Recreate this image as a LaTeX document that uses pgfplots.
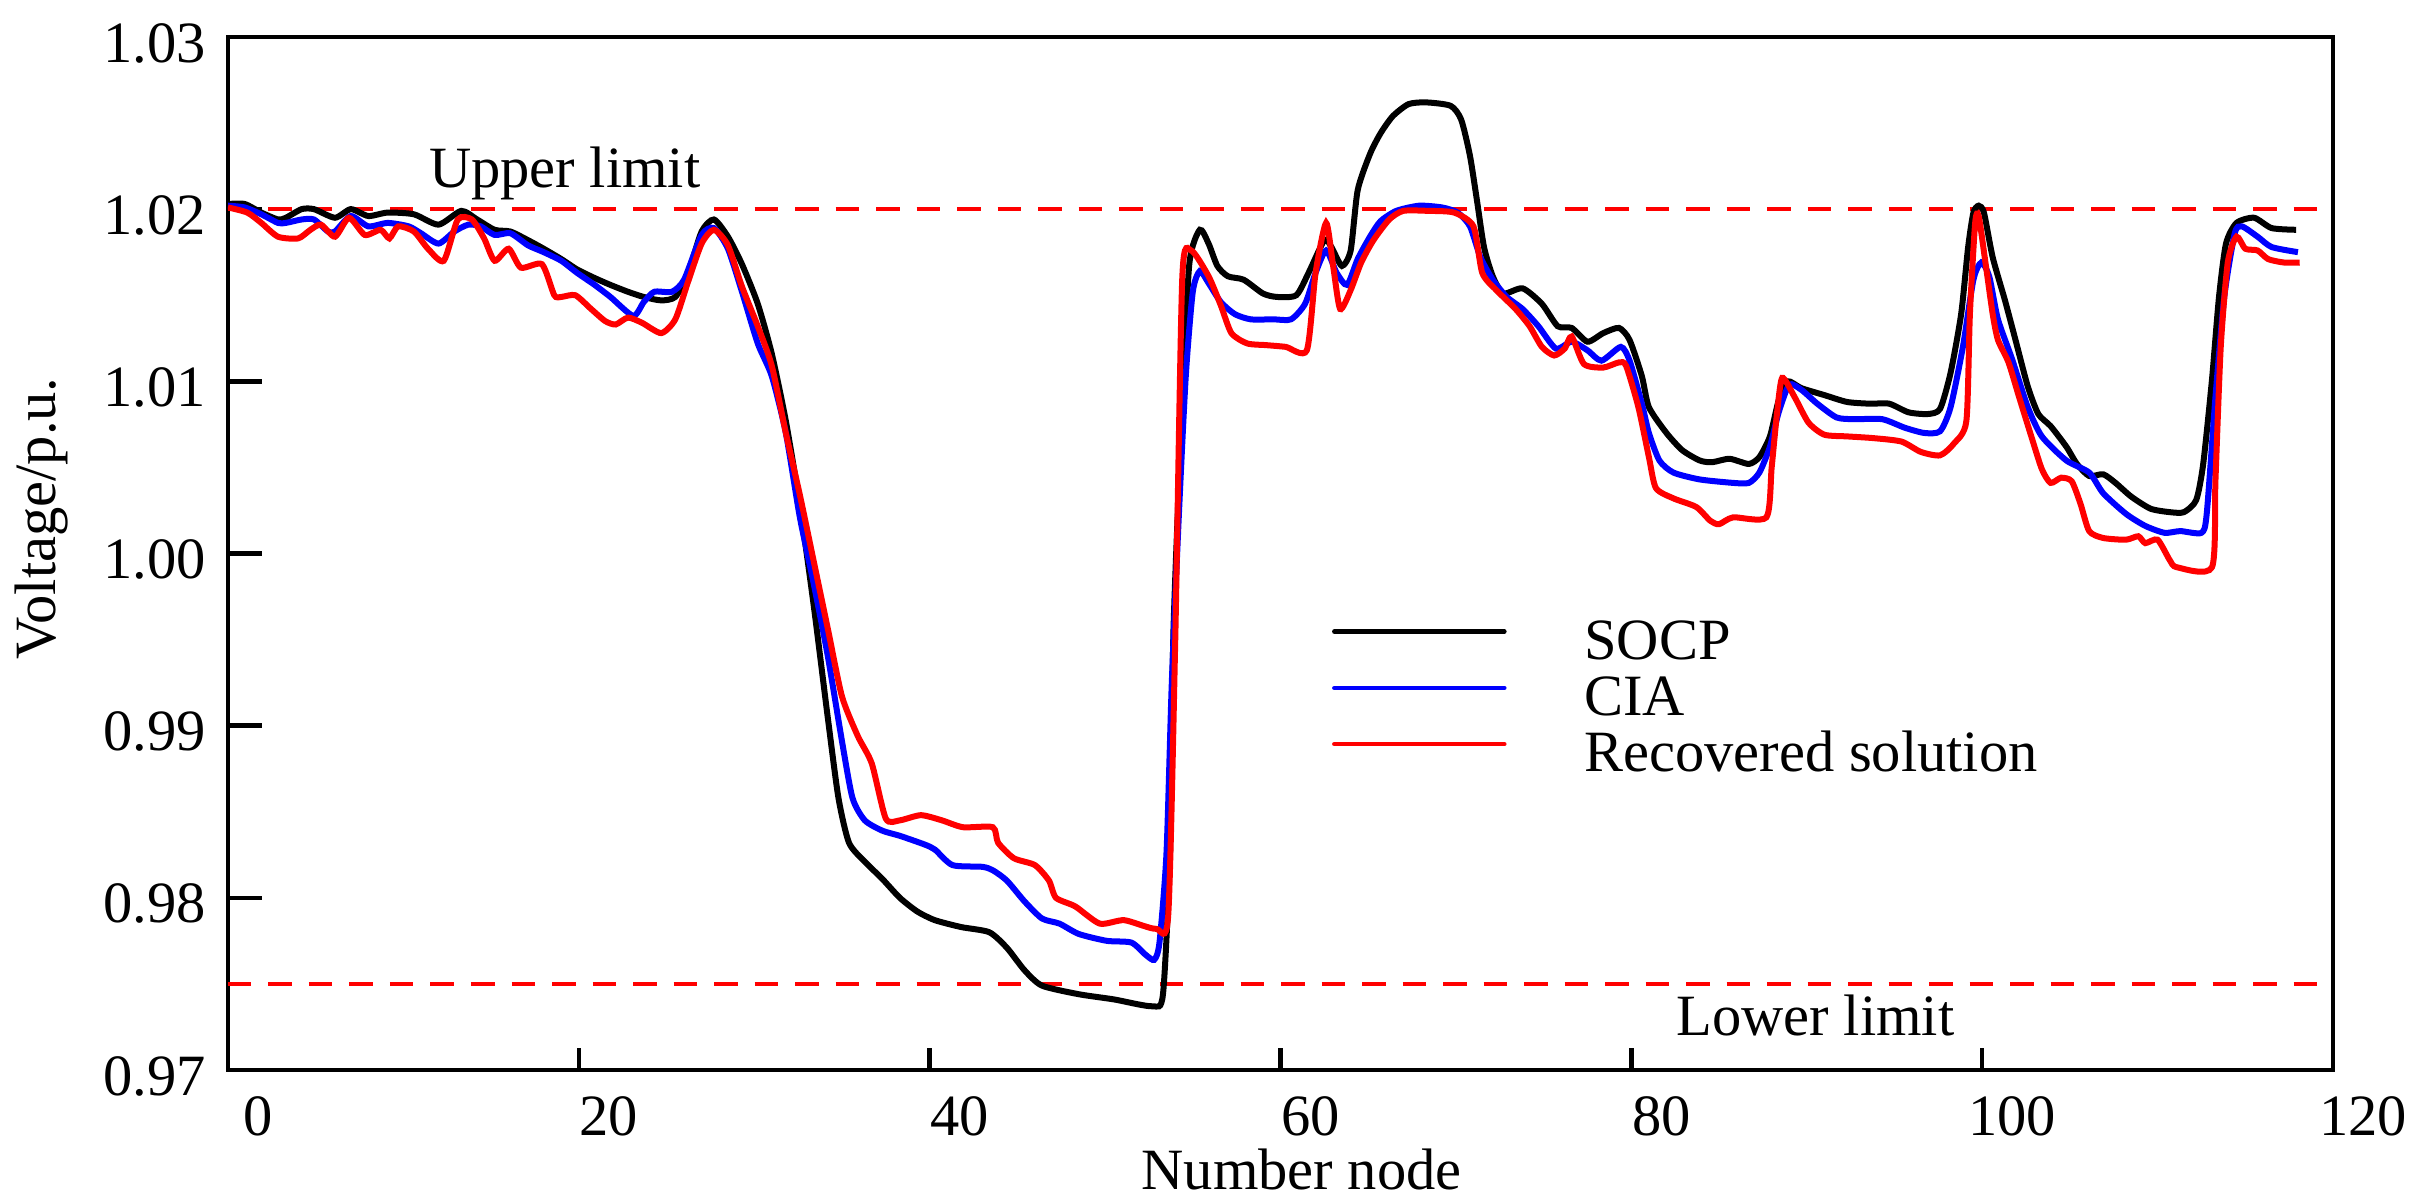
\documentclass[border=0pt]{standalone}
\usepackage{fontspec}
\setmainfont{Liberation Serif}
\usepackage{pgfplots}
\pgfplotsset{compat=1.18}
\newcommand{\fs}{\fontsize{11.7}{14}\selectfont}
\begin{document}
\begin{tikzpicture}
\useasboundingbox (-45.6pt,-25.6pt) rectangle (438.8pt,214pt);
\begin{axis}[
  scale only axis, width=421pt, height=206.6pt,
  xmin=0, xmax=120, ymin=0.97, ymax=1.03,
  xtick={0,20,40,60,80,100,120},
  ytick={0.97,0.98,0.99,1.00,1.01,1.02,1.03},
  tick align=inside, tick pos=left,
  major tick length=6.8pt,
  xtick style={/pgfplots/major tick length=4.4pt},
  axis line style={line width=0.9pt},
  every tick/.style={black, line width=0.9pt},
  /pgf/number format/assume math mode=true,
  yticklabel style={/pgf/number format/fixed, /pgf/number format/fixed zerofill, /pgf/number format/precision=2, xshift=-0.9pt, yshift=-1.2pt},
  xticklabel style={inner sep=0pt, xshift=6pt, yshift=-5.2pt},
  tick label style={font=\fs},
  xlabel={Number node}, ylabel={Voltage/p.u.},
  label style={font=\fs},
  xlabel style={at={(axis description cs:0.510,-0.0755)}, anchor=north, inner sep=0pt},
  ylabel style={at={(axis description cs:-0.0884,0.534)}, anchor=center},
  legend style={at={(axis description cs:0.5245,0.438)}, anchor=north west,
    draw=none, fill=none, inner sep=0pt, outer sep=0pt, font=\fs, row sep=0pt,
    nodes={inner sep=0pt, text height=8.3pt, text depth=2.95pt}},
  legend cell align=left,
  legend image code/.code={\draw[#1, line width=0.9pt, line cap=round] (0pt,2.8pt) -- (34pt,2.8pt);
    \path[draw=none] (0pt,2.8pt) -- (50pt,2.8pt);},
]
\addplot[red, line width=0.8pt, dash pattern=on 4.7pt off 3.4pt, forget plot] coordinates {(0,1.02) (120,1.02)};
\addplot[red, line width=0.8pt, dash pattern=on 4.7pt off 3.4pt, forget plot] coordinates {(0,0.975) (120,0.975)};

\addplot[black, line width=1.2pt, smooth, tension=0.4] coordinates {
(0,1.0203) (0.95,1.0203) (1.9,1.0198) (2.85,1.0194) (3.3,1.0195) (4.2,1.0200) (4.9,1.0200) (6.1,1.0195) (7.0,1.0200) (8.0,1.0196) (9.1,1.0198) (10.6,1.0197) (12.0,1.0191) (13.3,1.0199) (14.2,1.0194) (15.2,1.0188) (16.1,1.0187) (17.1,1.0182) (18.0,1.0177) (19.0,1.0171) (19.9,1.0165) (20.9,1.0160) (21.8,1.0156) (22.8,1.0152) (23.7,1.0149) (24.7,1.0147) (25.5,1.0149) (26.2,1.0162) (27.0,1.0187) (27.7,1.0194) (28.5,1.0184) (29.3,1.0168) (30.2,1.0145) (31.0,1.0116) (31.8,1.0077) (32.6,1.0028) (33.4,0.9969) (34.2,0.9904) (34.8,0.9858) (35.4,0.9832) (36.3,0.9821) (37.3,0.9811) (38.3,0.9800) (39.3,0.9792) (40.3,0.9787) (41.8,0.9783) (43.4,0.9780) (44.4,0.9771) (45.4,0.9758) (46.4,0.9749) (48.5,0.9744) (50.5,0.9741) (52.7,0.9737) (53.3,0.9744) (53.7,0.9826) (53.9,0.9956) (54.4,1.0086) (54.8,1.0168) (55.4,1.0188) (55.9,1.0180) (56.4,1.0167) (57.0,1.0161) (57.9,1.0159) (59.0,1.0151) (59.8,1.0149) (60.9,1.0150) (61.6,1.0163) (62.5,1.0182) (62.9,1.0178) (63.5,1.0167) (64.0,1.0176) (64.4,1.0211) (65.1,1.0232) (65.7,1.0244) (66.4,1.0254) (67.3,1.0261) (68.3,1.0262) (69.7,1.0260) (70.3,1.0252) (70.8,1.0231) (71.2,1.0205) (71.6,1.0178) (72.1,1.0161) (72.7,1.0151) (73.8,1.0154) (74.9,1.0145) (75.8,1.0132) (76.6,1.0131) (77.5,1.0123) (78.4,1.0128) (79.3,1.0131) (79.9,1.0124) (80.6,1.0103) (81.0,1.0085) (82.0,1.0070) (82.9,1.0060) (83.9,1.0054) (84.6,1.0053) (85.6,1.0055) (86.7,1.0052) (87.3,1.0056) (87.9,1.0068) (88.4,1.0089) (88.9,1.0100) (89.7,1.0096) (91.0,1.0092) (92.3,1.0088) (93.6,1.0087) (94.7,1.0087) (95.8,1.0082) (96.9,1.0081) (97.6,1.0084) (98.2,1.0105) (98.8,1.0139) (99.2,1.0178) (99.5,1.0198) (99.8,1.0202) (100.1,1.0198) (100.6,1.0172) (101.3,1.0147) (101.9,1.0124) (102.6,1.0097) (103.2,1.0081) (103.9,1.0074) (104.8,1.0062) (105.4,1.0052) (106.1,1.0045) (106.9,1.0046) (107.6,1.0041) (108.5,1.0033) (109.6,1.0026) (110.7,1.0024) (111.5,1.0024) (112.2,1.0031) (112.6,1.0052) (113.1,1.0101) (113.5,1.0149) (113.9,1.0180) (114.5,1.0192) (115.5,1.0195) (116.5,1.0189) (117.9,1.0188)
};
\addlegendentry{SOCP}

\addplot[blue, line width=1.2pt, smooth, tension=0.4] coordinates {
(0,1.0202) (0.95,1.0201) (1.9,1.0197) (2.85,1.0192) (3.3,1.0192) (4.2,1.0194) (4.9,1.0194) (5.7,1.0187) (6.1,1.0187) (7.0,1.0196) (8.0,1.0190) (9.1,1.0192) (10.3,1.0190) (11.0,1.0186) (12.0,1.0180) (12.9,1.0187) (13.7,1.0191) (14.4,1.0190) (15.2,1.0185) (16.1,1.0186) (17.1,1.0179) (18.0,1.0175) (19.0,1.0170) (19.9,1.0163) (20.9,1.0156) (21.8,1.0149) (23.1,1.0138) (23.7,1.0146) (24.3,1.0152) (25.3,1.0152) (26.0,1.0159) (27.0,1.0185) (27.7,1.0189) (28.5,1.0177) (29.3,1.0152) (30.2,1.0122) (31.0,1.0103) (31.8,1.0070) (32.6,1.0021) (33.4,0.9982) (34.2,0.9940) (35.0,0.9891) (35.6,0.9858) (36.3,0.9845) (37.3,0.9839) (38.3,0.9836) (39.7,0.9831) (40.3,0.9828) (41.3,0.9819) (43.0,0.9818) (43.6,0.9816) (44.4,0.9810) (45.4,0.9798) (46.4,0.9788) (47.4,0.9785) (48.5,0.9779) (50.1,0.9775) (51.5,0.9774) (52.3,0.9767) (52.8,0.9764) (53.1,0.9774) (53.5,0.9826) (53.8,0.9924) (54.2,1.0021) (54.6,1.0103) (55.0,1.0152) (55.4,1.0164) (55.9,1.0157) (56.6,1.0146) (57.4,1.0139) (58.3,1.0136) (59.6,1.0136) (60.6,1.0136) (61.4,1.0145) (62.0,1.0163) (62.6,1.0176) (63.2,1.0163) (63.8,1.0156) (64.4,1.0171) (65.1,1.0184) (65.7,1.0193) (66.6,1.0199) (67.9,1.0202) (69.2,1.0201) (70.1,1.0198) (70.8,1.0190) (71.4,1.0172) (72.1,1.0159) (72.9,1.0149) (73.8,1.0142) (74.7,1.0132) (75.7,1.0119) (76.6,1.0123) (77.5,1.0118) (78.3,1.0112) (79.4,1.0120) (79.9,1.0112) (80.6,1.0087) (81.0,1.0070) (81.6,1.0054) (82.4,1.0047) (83.9,1.0043) (85.8,1.0041) (86.7,1.0041) (87.3,1.0047) (87.9,1.0062) (88.4,1.0082) (89.0,1.0098) (89.7,1.0095) (90.6,1.0087) (91.7,1.0079) (92.7,1.0078) (94.3,1.0078) (95.6,1.0073) (96.7,1.0070) (97.6,1.0071) (98.2,1.0085) (98.9,1.0120) (99.5,1.0159) (99.95,1.0169) (100.4,1.0161) (100.9,1.0136) (101.7,1.0113) (102.6,1.0085) (103.4,1.0068) (104.8,1.0054) (106.1,1.0047) (106.9,1.0035) (108.2,1.0023) (109.3,1.0016) (110.4,1.0012) (111.3,1.0013) (112.5,1.0012) (112.8,1.0023) (113.3,1.0091) (113.8,1.0149) (114.4,1.0186) (114.8,1.0190) (115.7,1.0184) (116.5,1.0178) (118,1.0175)
};
\addlegendentry{CIA}

\addplot[red, line width=1.2pt, smooth, tension=0.4] coordinates {
(0,1.0201) (1.1,1.0198) (1.9,1.0192) (2.85,1.0184) (4.0,1.0183) (4.7,1.0188) (5.3,1.0191) (6.1,1.0184) (6.9,1.0195) (7.8,1.0185) (8.7,1.0188) (9.2,1.0183) (9.7,1.0190) (10.6,1.0187) (11.4,1.0177) (12.3,1.0170) (13.1,1.0194) (13.9,1.0194) (14.6,1.0183) (15.2,1.0170) (16.0,1.0177) (16.7,1.0166) (17.9,1.0168) (18.6,1.0150) (19.0,1.0149) (19.8,1.0150) (20.7,1.0142) (21.5,1.0135) (22.1,1.0133) (22.8,1.0137) (23.6,1.0134) (24.7,1.0128) (25.5,1.0136) (26.2,1.0157) (27.0,1.0180) (27.7,1.0188) (28.5,1.0179) (29.3,1.0155) (30.2,1.0132) (31.0,1.0109) (31.8,1.0070) (32.6,1.0034) (33.4,0.9995) (34.2,0.9956) (35.0,0.9917) (35.9,0.9894) (36.7,0.9878) (37.5,0.9846) (38.3,0.9845) (39.5,0.9848) (40.7,0.9845) (41.9,0.9841) (43.6,0.9841) (43.9,0.9832) (44.8,0.9823) (46.0,0.9819) (46.8,0.9810) (47.2,0.9800) (48.3,0.9795) (49.7,0.9785) (51.1,0.9787) (52.9,0.9782) (53.6,0.9790) (54.0,0.9950) (54.4,1.0160) (54.9,1.0176) (55.9,1.0161) (56.6,1.0144) (57.2,1.0128) (58.1,1.0122) (59.2,1.0121) (60.3,1.0120) (61.5,1.0118) (62.0,1.0163) (62.6,1.0192) (63.0,1.0167) (63.4,1.0142) (64.0,1.0153) (64.6,1.0169) (65.3,1.0182) (66.2,1.0194) (67.0,1.0199) (68.4,1.0199) (69.9,1.0198) (71.0,1.0190) (71.5,1.0163) (72.3,1.0153) (73.4,1.0142) (74.2,1.0132) (74.9,1.0120) (75.6,1.0115) (76.2,1.0119) (76.6,1.0126) (77.3,1.0110) (78.4,1.0108) (79.3,1.0111) (79.7,1.0109) (80.4,1.0085) (81.0,1.0056) (81.4,1.0038) (82.4,1.0032) (83.7,1.0027) (84.5,1.0019) (85.0,1.0017) (85.8,1.0021) (87.7,1.0021) (88.0,1.0050) (88.3,1.0081) (88.6,1.0102) (89.3,1.0091) (90.1,1.0076) (91.0,1.0069) (92.3,1.0068) (93.8,1.0067) (95.4,1.0065) (96.5,1.0059) (97.6,1.0057) (98.4,1.0064) (99.1,1.0077) (99.3,1.0139) (99.6,1.0192) (99.8,1.0196) (100.2,1.0168) (100.6,1.0139) (100.9,1.0124) (101.5,1.0111) (102.1,1.0091) (102.8,1.0068) (103.4,1.0049) (103.9,1.0041) (104.5,1.0044) (105.1,1.0042) (105.6,1.0029) (106.1,1.0013) (106.9,1.0009) (108.2,1.0008) (108.9,1.0010) (109.3,1.0006) (110.0,1.0008) (110.7,0.9996) (111.1,0.9992) (113.1,0.9992) (113.3,1.0043) (113.6,1.0120) (114.0,1.0169) (114.5,1.0184) (115.0,1.0177) (115.7,1.0176) (116.3,1.0171) (117.2,1.0169) (118.1,1.0169)
};
\addlegendentry{Recovered solution}

\node[anchor=base, font=\fs] at (axis cs:19.2,1.02123) {Upper limit};
\node[anchor=base, font=\fs] at (axis cs:90.5,0.97203) {Lower limit};
\end{axis}
\end{tikzpicture}
\end{document}
